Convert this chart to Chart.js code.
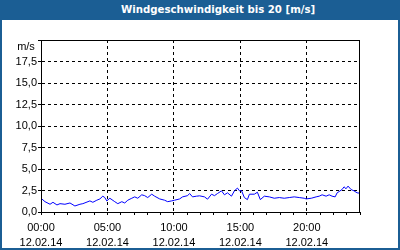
<!DOCTYPE html>
<html>
<head>
<meta charset="utf-8">
<script src="https://cdn.jsdelivr.net/npm/chart.js@4"></script>
<style>
  html, body { margin: 0; padding: 0; background: #fff; }
  #frame {
    position: relative; width: 400px; height: 250px; box-sizing: border-box;
    border: 2px solid #1b5e94; border-top: none; background: #fff; overflow: hidden;
  }
  #title {
    position: absolute; left: 0; top: 0; width: 400px; height: 20px; margin-left: -2px;
    background: #1b5e94; color: #fff; font: bold 10.2px "DejaVu Sans", sans-serif;
    line-height: 20px; box-sizing: border-box; padding-left: 121px; white-space: nowrap;
  }
  #chart { position: absolute; left: -2px; top: 0; }
</style>
</head>
<body>
<div id="frame">
  <canvas id="chart" width="400" height="250"></canvas>
  <div id="title">Windgeschwindigkeit bis 20 [m/s]</div>
</div>
<script>
// Wind speed, 12.02.14 (hours since midnight / m/s)
const hours = [
    0.00, 0.30, 0.68, 0.90, 1.20, 1.43, 1.80, 2.18, 2.55, 2.93, 3.15, 3.68, 3.90, 4.20, 4.43, 4.65,
    4.80, 4.95, 5.18, 5.55, 5.78, 6.08, 6.30, 6.53, 6.83, 7.05, 7.28, 7.58, 7.80, 8.03, 8.33, 8.55,
    8.93, 9.30, 9.53, 9.83, 10.05, 10.43, 10.65, 11.03, 11.18, 11.40, 11.70, 11.93, 12.30, 12.53, 12.83, 13.05,
    13.28, 13.58, 13.80, 14.03, 14.33, 14.55, 14.78, 14.93, 15.08, 15.30, 15.53, 15.68, 16.05, 16.28, 16.50, 16.80,
    17.18, 17.55, 17.93, 18.30, 18.68, 19.05, 19.43, 19.80, 19.95, 20.33, 20.70, 20.93, 21.15, 21.45, 21.68, 21.90,
    22.13, 22.28, 22.43, 22.65, 22.80, 22.95, 23.10, 23.33, 23.55, 23.78, 23.93
];
const speed = [
    1.60, 1.20, 0.90, 1.13, 0.82, 0.97, 0.90, 1.05, 0.70, 0.90, 0.97, 1.29, 1.13, 1.37, 1.52, 1.84,
    1.68, 1.29, 1.60, 1.20, 0.97, 1.20, 1.05, 1.37, 1.60, 1.76, 1.60, 2.00, 1.90, 1.68, 2.07, 1.84,
    1.52, 1.37, 1.20, 1.29, 1.37, 1.52, 1.76, 1.90, 2.15, 1.76, 1.84, 1.88, 1.76, 1.49, 2.07, 1.90,
    2.15, 2.46, 2.00, 2.23, 1.84, 2.46, 2.78, 2.46, 2.50, 1.68, 1.44, 2.07, 2.07, 2.30, 1.44, 1.84,
    1.76, 1.60, 1.68, 1.60, 1.68, 1.76, 1.68, 1.60, 1.52, 1.60, 1.76, 1.84, 2.00, 1.84, 2.00, 1.84,
    1.76, 2.23, 2.38, 2.61, 2.93, 2.70, 3.01, 2.61, 2.46, 2.23, 2.20
];

const tickHours = [0, 5, 10, 15, 20];
const timeLabels = ['00:00', '05:00', '10:00', '15:00', '20:00'];
const dateLabels = ['12.02.14', '12.02.14', '12.02.14', '12.02.14', '12.02.14'];
const yUnit = 'm/s';

const points = hours.map((h, i) => ({ x: h, y: speed[i] }));

// plot box + unit label
const framePlugin = {
    id: 'frame',
    afterDraw: (chart) => {
        const { ctx, chartArea: a } = chart;
        ctx.save();
        ctx.strokeStyle = '#000';
        ctx.lineWidth = 1;
        ctx.setLineDash([]);
        ctx.strokeRect(Math.round(a.left) + 0.5, Math.round(a.top) + 0.5,
            Math.round(a.right - a.left) - 1, Math.round(a.bottom - a.top));
        ctx.fillStyle = '#000';
        ctx.font = '11px "Liberation Sans", Arial, sans-serif';
        ctx.textAlign = 'center';
        ctx.textBaseline = 'middle';
        ctx.fillText(yUnit, 26, 47);
        ctx.restore();
    }
};

Chart.defaults.font.family = '"Liberation Sans", Arial, sans-serif';
Chart.defaults.font.size = 11;
Chart.defaults.color = '#000';

new Chart(document.getElementById('chart'), {
    type: 'line',
    data: {
        datasets: [{
            data: points,
            borderColor: '#0000ff',
            borderWidth: 1,
            pointRadius: 0,
            tension: 0,
            fill: false
        }]
    },
    options: {
        responsive: false,
        animation: false,
        events: [],
        layout: { padding: { top: 40, right: 40, left: 2, bottom: 0 } },
        plugins: { legend: { display: false }, tooltip: { enabled: false } },
        scales: {
            x: {
                type: 'linear',
                min: 0,
                max: 24,
                afterFit: (s) => { s.height = 38; },
                border: { color: '#000', dash: [3, 3] },
                grid: {
                    color: (c) => (c.tick && c.tick.value % 5 === 0 && c.tick.value > 0 && c.tick.value < 24) ? '#000' : 'rgba(0,0,0,0)',
                    tickColor: '#000',
                    tickBorderDash: [1, 0],
                    tickLength: 3
                },
                ticks: {
                    stepSize: 1,
                    autoSkip: false,
                    maxRotation: 0,
                    padding: 5,
                    font: { size: 11, lineHeight: 1.42 },
                    callback: (v) => {
                        const i = tickHours.indexOf(v);
                        return i < 0 ? '' : [timeLabels[i], dateLabels[i]];
                    }
                }
            },
            y: {
                min: 0,
                max: 20,
                afterFit: (s) => { s.width = 39; },
                border: { color: '#000', dash: [3, 3] },
                grid: {
                    color: (c) => (c.tick && c.tick.value > 0 && c.tick.value < 20) ? '#000' : 'rgba(0,0,0,0)',
                    tickColor: '#000',
                    tickBorderDash: [1, 0],
                    tickLength: 3
                },
                ticks: {
                    stepSize: 2.5,
                    padding: 1,
                    callback: (v) => v >= 20 ? '' : v.toFixed(1).replace('.', ',')
                }
            }
        }
    },
    plugins: [framePlugin]
});
</script>
</body>
</html>
